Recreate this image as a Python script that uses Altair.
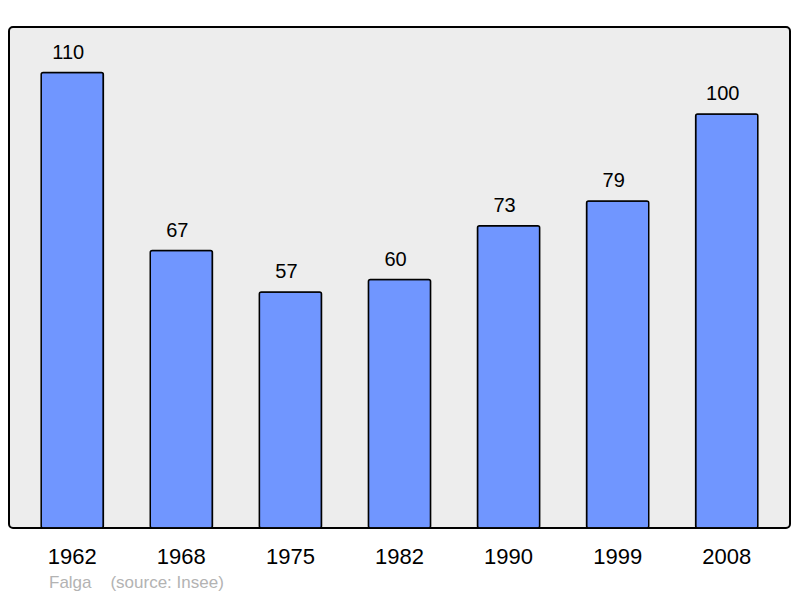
import altair as alt
import pandas as pd

years = ["1962", "1968", "1975", "1982", "1990", "1999", "2008"]
population = [110, 67, 57, 60, 73, 79, 100]

df = pd.DataFrame({"year": years, "pop": population})

x = alt.X("year:N", sort=years,
          scale=alt.Scale(paddingInner=0.43, paddingOuter=0.295),
          axis=alt.Axis(title=None, labelAngle=0, labelFontSize=22, labelColor="black",
                        labelFont="Liberation Sans", ticks=False, domain=False,
                        labelPadding=18))
y = alt.Y("pop:Q", scale=alt.Scale(domain=[0, 121], nice=False), axis=None)

bars = alt.Chart(df).mark_bar(color="#7096ff", stroke="black", strokeWidth=1.5,
                              cornerRadius=2).encode(x=x, y=y)
labels = alt.Chart(df).mark_text(baseline="alphabetic", dy=-14, dx=-4, fontSize=20,
                                 font="Liberation Sans", color="black").encode(
    x=x, y=y, text="pop:Q")

chart = (bars + labels).properties(
    width=781, height=501,
    autosize=alt.AutoSizeParams(type="none"),
    padding={"left": 1, "top": 19, "right": 2, "bottom": 70},
    title=alt.TitleParams("Falga\u00a0\u00a0\u00a0\u00a0(source: Insee)", orient="bottom",
                          anchor="start", fontSize=17, font="Liberation Sans",
                          fontWeight="normal", color="#b3b3b3", dx=40, offset=8),
).configure_view(fill="#ededed", stroke="black", strokeWidth=2, cornerRadius=4)

chart.save("out.html", embed_options={"renderer": "svg", "actions": False})
